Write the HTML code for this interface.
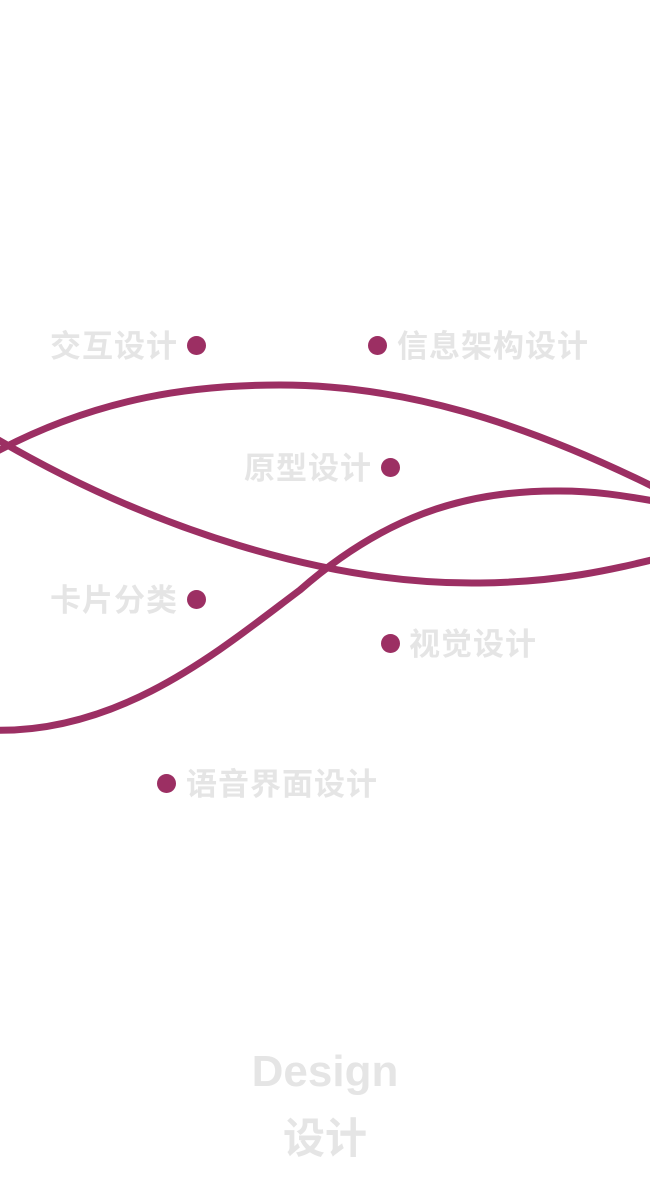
<!DOCTYPE html>
<html><head><meta charset="utf-8"><style>
body{margin:0;width:650px;height:1192px;background:#fff;position:relative;overflow:hidden;font-family:"Liberation Sans","Noto Sans CJK SC",sans-serif}
.t{position:absolute;color:#e5e5e5;font-size:31px;font-weight:bold;line-height:1;white-space:nowrap;letter-spacing:1px}
.d{position:absolute;width:19px;height:19px;border-radius:50%;background:#9c2f63}
</style></head><body>
<svg width="650" height="1192" style="position:absolute;left:0;top:0">
<g fill="none" stroke="#9c2f63" stroke-width="7">
<path d="M -10 455 C 100 395, 200 385, 280 385 C 400 385, 520 420, 660 490"/>
<path d="M -10 435 C 150 530, 330 585, 480 583 C 560 582, 610 570, 660 558"/>
<path d="M -10 730 C 120 735, 220 650, 300 590 C 380 520, 460 490, 560 491 C 600 491, 630 497, 660 502"/>
</g>
</svg>
<div class="t" style="left:50px;top:331px">交互设计</div><div class="d" style="left:187px;top:336px"></div>
<div class="d" style="left:368px;top:336px"></div><div class="t" style="left:397px;top:331px">信息架构设计</div>
<div class="t" style="left:244px;top:453px">原型设计</div><div class="d" style="left:381px;top:458px"></div>
<div class="t" style="left:50px;top:585px">卡片分类</div><div class="d" style="left:187px;top:590px"></div>
<div class="d" style="left:381px;top:634px"></div><div class="t" style="left:409px;top:629px">视觉设计</div>
<div class="d" style="left:157px;top:774px"></div><div class="t" style="left:186px;top:769px">语音界面设计</div>
<div class="t" style="left:0;width:650px;text-align:center;top:1050px;font-size:44px;letter-spacing:0">Design</div>
<div class="t" style="left:0;width:650px;text-align:center;top:1118px;font-size:42px;letter-spacing:0">设计</div>
</body></html>
